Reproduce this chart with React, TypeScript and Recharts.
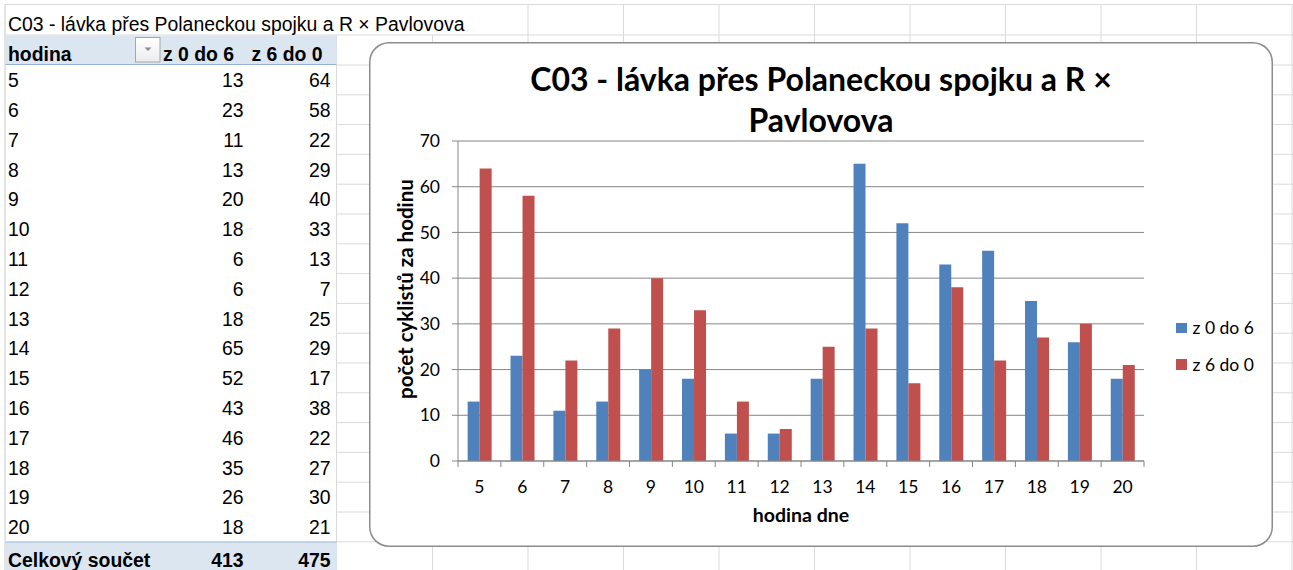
import React from 'react';
import { BarChart, Bar, XAxis, YAxis, CartesianGrid, Legend } from 'recharts';

// ---------- data ----------
const hours = ['5', '6', '7', '8', '9', '10', '11', '12', '13', '14', '15', '16', '17', '18', '19', '20'];
const z0do6 = [13, 23, 11, 13, 20, 18, 6, 6, 18, 65, 52, 43, 46, 35, 26, 18];
const z6do0 = [64, 58, 22, 29, 40, 33, 13, 7, 25, 29, 17, 38, 22, 27, 30, 21];
const yTicks = [0, 10, 20, 30, 40, 50, 60, 70];
const seriesNames = ['z 0 do 6', 'z 6 do 0'];
const sheetTitle = 'C03 - lávka přes Polaneckou spojku a R × Pavlovova';
const chartTitleLines = ['C03 - lávka přes Polaneckou spojku a R ×', 'Pavlovova'];
const headerLabels = ['hodina', 'z 0 do 6', 'z 6 do 0'];
const totalLabel = 'Celkový součet';
const yAxisTitle = 'počet cyklistů za hodinu';
const xAxisTitle = 'hodina dne';

const data = hours.map((h, i) => ({ hour: h, a: z0do6[i], b: z6do0[i] }));
const total0 = z0do6.reduce((s, v) => s + v, 0);
const total1 = z6do0.reduce((s, v) => s + v, 0);

// ---------- layout constants ----------
const W = 1293;
const H = 570;
const GRID = '#dadada';
const HEAD_BG = '#dce6f1';
const HEAD_LINE = '#95b3d7';
const ROW0 = 65;
const ROW_H = 29.8;
const colLines = [528, 623.5, 719, 814.5, 910, 1005.5, 1101, 1196.5, 1292];

const CH_L = 369;
const CH_T = 42;
const CH_W = 904;
const CH_H = 505;
const PLOT_L = 89;
const PLOT_R = 129;
const PLOT_T = 99;
const PLOT_B = 86;
const Y_AXIS_W = 60;
const X_AXIS_H = 40;
const AXIS_COLOR = '#868686';
const TICK_SIZE = 6;
const TICK_MARGIN = 2;
const CH_FONT = 'Lato, "Open Sans", sans-serif';
const CH_FS = 17.5;
const TITLE_FS = 32;

const TBL_FONT = '"Liberation Sans", Arial, sans-serif';
const TBL_FS = 19.4;

// top of a line box of height lh so that the baseline falls at `baseline`
const topFor = (baseline: number, fs: number, lh: number, asc: number, desc: number) =>
  baseline - ((lh - (asc + desc) * fs) / 2 + asc * fs);

const Cell = ({ x, baseline, text, align = 'left', bold = false }: any) => {
  const lh = 23;
  const top = topFor(baseline, TBL_FS, lh, 0.905, 0.212);
  const style: React.CSSProperties = {
    position: 'absolute',
    top,
    lineHeight: lh + 'px',
    fontSize: TBL_FS,
    fontFamily: TBL_FONT,
    fontWeight: bold ? 700 : 400,
    whiteSpace: 'nowrap',
    color: '#000',
  };
  if (align === 'left') style.left = x;
  else style.right = W - x;
  return <div style={style}>{text}</div>;
};

const XTick = (props: any) => {
  const { x, y, payload, index } = props;
  const plotW = CH_W - PLOT_L - PLOT_R;
  const half = typeof payload?.offset === 'number' && payload.offset > 0 ? payload.offset : plotW / hours.length / 2;
  const axisY = y - TICK_SIZE - TICK_MARGIN;
  return (
    <g>
      {index === 0 && (
        <line x1={x - half} x2={x - half} y1={axisY} y2={axisY + TICK_SIZE} stroke={AXIS_COLOR} strokeWidth={1} />
      )}
      <line x1={x + half} x2={x + half} y1={axisY} y2={axisY + TICK_SIZE} stroke={AXIS_COLOR} strokeWidth={1} />
      <text x={x} y={axisY + 31.5} textAnchor="middle" fontFamily={CH_FONT} fontSize={CH_FS} fill="#000">
        {payload.value}
      </text>
    </g>
  );
};

const LegendContent = (props: any) => {
  const payload = props.payload || [];
  return (
    <div>
      {payload.map((p: any, i: number) => (
        <div key={i} style={{ display: 'flex', alignItems: 'center', height: 36.5 }}>
          <span style={{ display: 'inline-block', width: 10.5, height: 10.5, background: p.color, marginRight: 6 }} />
          <span style={{ fontFamily: CH_FONT, fontSize: CH_FS, lineHeight: '20px', color: '#000', whiteSpace: 'nowrap' }}>
            {p.value}
          </span>
        </div>
      ))}
    </div>
  );
};

const Sheet = () => {
  const hLines: React.ReactNode[] = [];
  hLines.push(<line key="t0" x1={5} x2={W} y1={4.5} y2={4.5} stroke={GRID} />);
  hLines.push(<line key="t1" x1={5} x2={W} y1={35} y2={35} stroke={GRID} />);
  for (let k = 0; k <= 17; k++) {
    const y = ROW0 + k * ROW_H;
    hLines.push(<line key={'h' + k} x1={337} x2={W} y1={y} y2={y} stroke={GRID} />);
  }
  const vLines: React.ReactNode[] = [];
  vLines.push(<line key="v0" x1={5} x2={5} y1={4.5} y2={H} stroke="#c8c8c8" />);
  vLines.push(<line key="v1" x1={336.5} x2={336.5} y1={35} y2={H} stroke={GRID} />);
  vLines.push(<line key="v2" x1={432.5} x2={432.5} y1={35} y2={H} stroke={GRID} />);
  colLines.forEach((x, i) => vLines.push(<line key={'c' + i} x1={x} x2={x} y1={4.5} y2={H} stroke={GRID} />));
  return (
    <svg width={W} height={H} style={{ position: 'absolute', left: 0, top: 0 }}>
      {hLines}
      {vLines}
      {/* header band */}
      <rect x={5.5} y={35.5} width={331} height={29} fill={HEAD_BG} />
      <line x1={5.5} x2={336.5} y1={64.5} y2={64.5} stroke={HEAD_LINE} />
      {/* total band */}
      <rect x={5.5} y={542} width={331} height={30} fill={HEAD_BG} />
      <line x1={5.5} x2={336.5} y1={542} y2={542} stroke={HEAD_LINE} />
      {/* filter dropdown */}
      <defs>
        <linearGradient id="dd" x1="0" y1="0" x2="0" y2="1">
          <stop offset="0" stopColor="#ffffff" />
          <stop offset="1" stopColor="#ececec" />
        </linearGradient>
      </defs>
      <rect x={135.5} y={37.5} width={24.5} height={24.5} fill="url(#dd)" stroke="#a6a6a6" />
      <path d="M144.5 47.5 L151.5 47.5 L148 51 Z" fill="#8c8c8c" />
    </svg>
  );
};

export default function App() {
  return (
    <div style={{ position: 'absolute', left: 0, top: 0, width: W, height: H, overflow: 'hidden', background: '#fff' }}>
      <Sheet />
      {/* sheet texts */}
      <Cell x={8} baseline={31.5} text={sheetTitle} />
      <Cell x={8} baseline={61} text={headerLabels[0]} bold />
      <Cell x={163} baseline={61} text={headerLabels[1]} bold />
      <Cell x={251.5} baseline={61} text={headerLabels[2]} bold />
      {hours.map((h, i) => {
        const bl = ROW0 + i * ROW_H + 22.5;
        return (
          <React.Fragment key={h}>
            <Cell x={8} baseline={bl} text={h} />
            <Cell x={243.5} baseline={bl} text={String(z0do6[i])} align="right" />
            <Cell x={330.5} baseline={bl} text={String(z6do0[i])} align="right" />
          </React.Fragment>
        );
      })}
      <Cell x={8} baseline={567} text={totalLabel} bold />
      <Cell x={243.5} baseline={567} text={String(total0)} align="right" bold />
      <Cell x={330.5} baseline={567} text={String(total1)} align="right" bold />

      {/* chart box */}
      <div
        style={{
          position: 'absolute',
          left: CH_L,
          top: CH_T,
          width: CH_W,
          height: CH_H,
          background: '#fff',
          borderRadius: 20,
          boxShadow: 'inset 0 0 0 1.5px #8c8c8c',
        }}
      >
        <BarChart
          width={CH_W}
          height={CH_H}
          data={data}
          barCategoryGap="22.5%"
          barGap={0}
          margin={{ top: PLOT_T, right: PLOT_R, bottom: PLOT_B - X_AXIS_H, left: PLOT_L - Y_AXIS_W }}
        >
          <CartesianGrid vertical={false} stroke={AXIS_COLOR} strokeWidth={1} />
          <XAxis
            dataKey="hour"
            interval={0}
            height={X_AXIS_H}
            tickLine={false}
            tickSize={TICK_SIZE}
            tickMargin={TICK_MARGIN}
            axisLine={{ stroke: AXIS_COLOR }}
            tick={<XTick />}
          />
          <YAxis
            domain={[0, 70]}
            ticks={yTicks}
            interval={0}
            width={Y_AXIS_W}
            tickSize={TICK_SIZE}
            tickMargin={12}
            tickLine={{ stroke: AXIS_COLOR }}
            axisLine={{ stroke: AXIS_COLOR }}
            tick={{ fill: '#000', fontSize: CH_FS, fontFamily: CH_FONT }}
          />
          <Legend
            layout="vertical"
            align="center"
            verticalAlign="middle"
            content={<LegendContent />}
            wrapperStyle={{ left: 807, top: 267.75, width: 'auto' }}
          />
          <Bar dataKey="a" name={seriesNames[0]} fill="#4f81bd" isAnimationActive={false} />
          <Bar dataKey="b" name={seriesNames[1]} fill="#c0504d" isAnimationActive={false} />
        </BarChart>

        {/* chart title */}
        {chartTitleLines.map((t, i) => (
          <div
            key={i}
            style={{
              position: 'absolute',
              left: 0,
              width: CH_W,
              textAlign: 'center',
              top: topFor(91 + i * 41.7, TITLE_FS, 42, 0.987, 0.213) - CH_T,
              lineHeight: '42px',
              fontFamily: CH_FONT,
              fontWeight: 700,
              fontSize: TITLE_FS,
              color: '#000',
              whiteSpace: 'nowrap',
            }}
          >
            {t}
          </div>
        ))}
        {/* axis titles */}
        <div
          style={{
            position: 'absolute',
            left: 405 - CH_L,
            top: 289 - CH_T,
            transform: 'translate(-50%, -50%) rotate(-90deg)',
            fontFamily: CH_FONT,
            fontWeight: 700,
            fontSize: 20.5,
            lineHeight: '22px',
            whiteSpace: 'nowrap',
            color: '#000',
          }}
        >
          {yAxisTitle}
        </div>
        <div
          style={{
            position: 'absolute',
            left: 801 - CH_L,
            transform: 'translateX(-50%)',
            top: topFor(523, 19.5, 22, 0.987, 0.213) - CH_T,
            fontFamily: CH_FONT,
            fontWeight: 700,
            fontSize: 19.5,
            lineHeight: '22px',
            whiteSpace: 'nowrap',
            color: '#000',
          }}
        >
          {xAxisTitle}
        </div>
      </div>
    </div>
  );
}
